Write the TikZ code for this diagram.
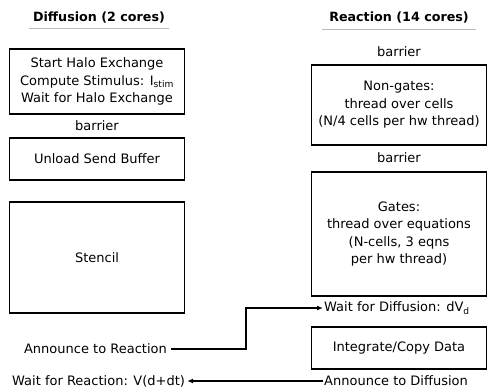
\documentclass[tikz,border=0pt]{standalone}
\usepackage{fontspec}
\setmainfont{DejaVu Sans}
\usetikzlibrary{arrows.meta,calc}
\begin{document}
\begin{tikzpicture}[x=1pt,y=-1pt,
  txt/.style={font=\fontsize{13}{17.5}\selectfont, inner sep=1pt, align=center},
  head/.style={font=\fontsize{12.7}{15}\selectfont\bfseries, inner sep=1pt},
  hrule/.style={draw=gray!55, line width=1pt},
  task/.style={txt, draw=black, line width=1.8pt, minimum width=175pt, align=center},
  link/.style={line width=1.4pt},
  tip/.style={-{Latex[length=6pt,width=5pt]}}
]
\useasboundingbox (0,0) rectangle (487,389);
\fill[white] (0,0) rectangle (487,389);

% column headers
\node[head] (hdiff) at (99,18) {Diffusion (2 cores)};
\node[head] (hreac) at (399,18) {Reaction (14 cores)};
\draw[hrule] ($(hdiff.south west)+(-3,4)$) -- ($(hdiff.south east)+(3,4)$);
\draw[hrule] ($(hreac.south west)+(-6,5)$) -- ($(hreac.south east)+(6,5)$);

% diffusion side
\node[task, minimum height=65pt] (halo) at (97,81.5)
  {Start Halo Exchange\\Compute Stimulus: I\textsubscript{stim}\\Wait for Halo Exchange};
\node[txt] (bar1) at (97,126) {barrier};
\node[task, minimum height=42pt] (unload) at (97,159) {Unload Send Buffer};
\node[task, minimum height=111pt] (stencil) at (97,257.5) {Stencil};
\node[txt, anchor=east] (annR) at (168,349) {Announce to Reaction};
\node[txt, anchor=west] (waitR) at (11,381) {Wait for Reaction: V(d+dt)};

% reaction side
\node[txt] (bar2) at (399,52) {barrier};
\node[task, minimum height=80pt] (nongates) at (399,105)
  {Non-gates:\\thread over cells\\(N/4 cells per hw thread)};
\node[txt] (bar3) at (399,158) {barrier};
\node[task, minimum height=124pt] (gates) at (399,234)
  {Gates:\\thread over equations\\(N-cells, 3 eqns\\per hw thread)};
\node[txt, anchor=west] (waitD) at (323,308) {Wait for Diffusion: dV\textsubscript{d}};
\node[task, minimum height=42pt] (integ) at (399,348) {Integrate/Copy Data};
\node[txt, anchor=west] (annD) at (323,381) {Announce to Diffusion};

% hand-offs between the two sides
\coordinate (bend) at (246,349);
\draw[link, tip] ([xshift=3pt]annR.east) -- (bend) |- (waitD.west);
\draw[link, tip] (annD.west) -- ([xshift=1pt]waitR.east);
\end{tikzpicture}
\end{document}
